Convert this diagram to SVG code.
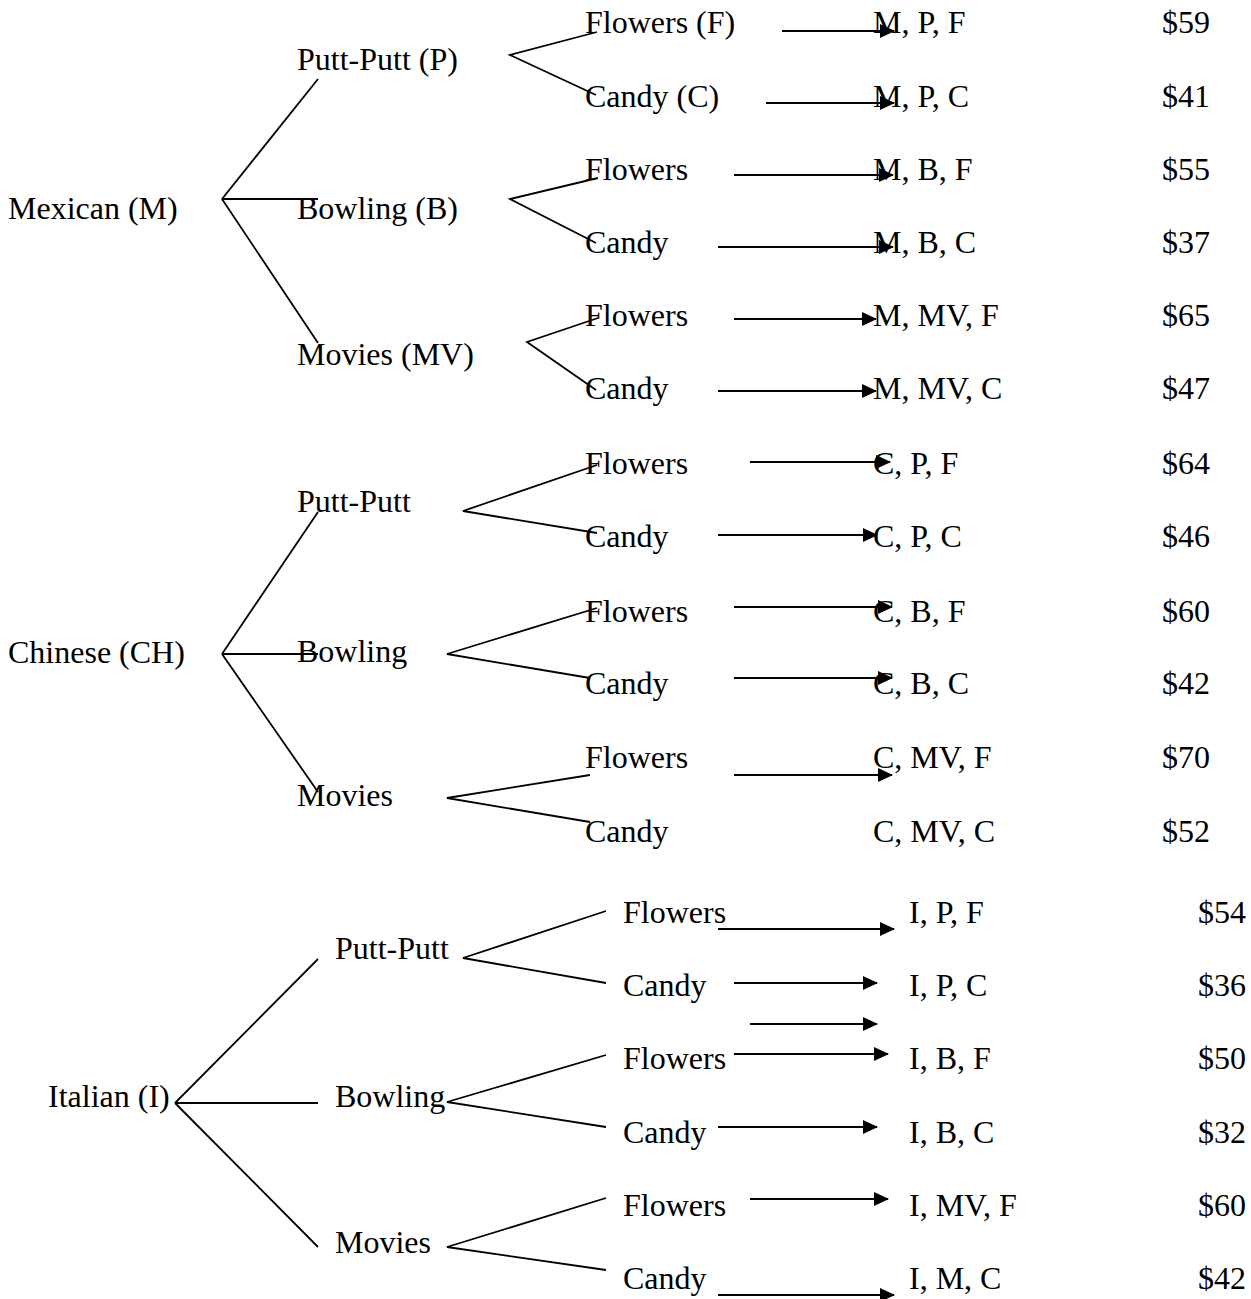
<svg xmlns="http://www.w3.org/2000/svg" width="1251" height="1299" viewBox="0 0 1251 1299">
<style>
.t{font-family:"Liberation Serif","Times New Roman",serif;font-size:32px;fill:#000}
.e{stroke:#000;stroke-width:1.8;fill:none}
.a{stroke:#000;stroke-width:2;fill:none;marker-end:url(#ah)}
</style>
<defs>
<marker id="ah" viewBox="0 0 15 14" refX="14" refY="7" markerWidth="15" markerHeight="14" markerUnits="userSpaceOnUse" orient="auto">
<path d="M0,0 L15,7 L0,14 z" fill="#000"/>
</marker>
</defs>
<rect width="1251" height="1299" fill="#fff"/>
<g id="connectors">
<!-- Mexican tree -->
<line class="e" x1="222" y1="199" x2="318" y2="79"/>
<line class="e" x1="222" y1="199" x2="318" y2="199"/>
<line class="e" x1="222" y1="199" x2="318" y2="343"/>
<polyline class="e" points="597,32 510,55 596,95"/>
<polyline class="e" points="598,178 510,199 596,243"/>
<polyline class="e" points="598,318 527,342 596,390"/>
<line class="a" x1="782" y1="31" x2="894" y2="31"/>
<line class="a" x1="766" y1="103" x2="894" y2="103"/>
<line class="a" x1="734" y1="175" x2="893" y2="175"/>
<line class="a" x1="718" y1="247" x2="893" y2="247"/>
<line class="a" x1="734" y1="319" x2="876" y2="319"/>
<line class="a" x1="718" y1="391" x2="876" y2="391"/>
<!-- Chinese tree -->
<line class="e" x1="222" y1="654" x2="318" y2="512"/>
<line class="e" x1="222" y1="654" x2="318" y2="654"/>
<line class="e" x1="222" y1="654" x2="318" y2="792"/>
<polyline class="e" points="597,465 463,511 597,533"/>
<polyline class="e" points="597,608 447,654 590,678"/>
<polyline class="e" points="590,775 447,798 590,822"/>
<line class="a" x1="750" y1="462" x2="890" y2="462"/>
<line class="a" x1="718" y1="535" x2="877" y2="535"/>
<line class="a" x1="734" y1="607" x2="892" y2="607"/>
<line class="a" x1="734" y1="678" x2="892" y2="678"/>
<line class="a" x1="734" y1="775" x2="892" y2="775"/>
<!-- Italian tree -->
<line class="e" x1="175" y1="1103" x2="318" y2="959"/>
<line class="e" x1="175" y1="1103" x2="318" y2="1103"/>
<line class="e" x1="175" y1="1103" x2="318" y2="1247"/>
<polyline class="e" points="606,911 463,958 606,983"/>
<polyline class="e" points="606,1055 447,1102 606,1127"/>
<polyline class="e" points="606,1198 447,1247 606,1270"/>
<line class="a" x1="718" y1="929" x2="894" y2="929"/>
<line class="a" x1="734" y1="983" x2="877" y2="983"/>
<line class="a" x1="750" y1="1024" x2="877" y2="1024"/>
<line class="a" x1="734" y1="1054" x2="888" y2="1054"/>
<line class="a" x1="718" y1="1127" x2="877" y2="1127"/>
<line class="a" x1="750" y1="1199" x2="888" y2="1199"/>
<line class="a" x1="718" y1="1295" x2="894" y2="1295"/>
</g>
<g id="mexican"><text class="t" x="8" y="219">Mexican (M)</text></g>
<g id="m-puttputt"><text class="t" x="297" y="70">Putt-Putt (P)</text></g>
<g id="m-bowling"><text class="t" x="297" y="219">Bowling (B)</text></g>
<g id="m-movies"><text class="t" x="297" y="365">Movies (MV)</text></g>
<g id="m-leaves">
<text class="t" x="585" y="33">Flowers (F)</text>
<text class="t" x="585" y="107">Candy (C)</text>
<text class="t" x="585" y="180">Flowers</text>
<text class="t" x="585" y="253">Candy</text>
<text class="t" x="585" y="326">Flowers</text>
<text class="t" x="585" y="399">Candy</text>
</g>
<g id="m-outcomes">
<text class="t" x="873" y="33">M, P, F</text>
<text class="t" x="873" y="107">M, P, C</text>
<text class="t" x="873" y="180">M, B, F</text>
<text class="t" x="873" y="253">M, B, C</text>
<text class="t" x="873" y="326">M, MV, F</text>
<text class="t" x="873" y="399">M, MV, C</text>
</g>
<g id="m-prices">
<text class="t" x="1162" y="33">$59</text>
<text class="t" x="1162" y="107">$41</text>
<text class="t" x="1162" y="180">$55</text>
<text class="t" x="1162" y="253">$37</text>
<text class="t" x="1162" y="326">$65</text>
<text class="t" x="1162" y="399">$47</text>
</g>
<g id="chinese"><text class="t" x="8" y="663">Chinese (CH)</text></g>
<g id="c-puttputt"><text class="t" x="297" y="512">Putt-Putt</text></g>
<g id="c-bowling"><text class="t" x="297" y="662">Bowling</text></g>
<g id="c-movies"><text class="t" x="297" y="806">Movies</text></g>
<g id="c-leaves">
<text class="t" x="585" y="474">Flowers</text>
<text class="t" x="585" y="547">Candy</text>
<text class="t" x="585" y="622">Flowers</text>
<text class="t" x="585" y="694">Candy</text>
<text class="t" x="585" y="768">Flowers</text>
<text class="t" x="585" y="842">Candy</text>
</g>
<g id="c-outcomes">
<text class="t" x="873" y="474">C, P, F</text>
<text class="t" x="873" y="547">C, P, C</text>
<text class="t" x="873" y="622">C, B, F</text>
<text class="t" x="873" y="694">C, B, C</text>
<text class="t" x="873" y="768">C, MV, F</text>
<text class="t" x="873" y="842">C, MV, C</text>
</g>
<g id="c-prices">
<text class="t" x="1162" y="474">$64</text>
<text class="t" x="1162" y="547">$46</text>
<text class="t" x="1162" y="622">$60</text>
<text class="t" x="1162" y="694">$42</text>
<text class="t" x="1162" y="768">$70</text>
<text class="t" x="1162" y="842">$52</text>
</g>
<g id="italian"><text class="t" x="48" y="1107">Italian (I)</text></g>
<g id="i-puttputt"><text class="t" x="335" y="959">Putt-Putt</text></g>
<g id="i-bowling"><text class="t" x="335" y="1107">Bowling</text></g>
<g id="i-movies"><text class="t" x="335" y="1253">Movies</text></g>
<g id="i-leaves">
<text class="t" x="623" y="923">Flowers</text>
<text class="t" x="623" y="996">Candy</text>
<text class="t" x="623" y="1069">Flowers</text>
<text class="t" x="623" y="1143">Candy</text>
<text class="t" x="623" y="1216">Flowers</text>
<text class="t" x="623" y="1289">Candy</text>
</g>
<g id="i-outcomes">
<text class="t" x="909" y="923">I, P, F</text>
<text class="t" x="909" y="996">I, P, C</text>
<text class="t" x="909" y="1069">I, B, F</text>
<text class="t" x="909" y="1143">I, B, C</text>
<text class="t" x="909" y="1216">I, MV, F</text>
<text class="t" x="909" y="1289">I, M, C</text>
</g>
<g id="i-prices">
<text class="t" x="1198" y="923">$54</text>
<text class="t" x="1198" y="996">$36</text>
<text class="t" x="1198" y="1069">$50</text>
<text class="t" x="1198" y="1143">$32</text>
<text class="t" x="1198" y="1216">$60</text>
<text class="t" x="1198" y="1289">$42</text>
</g>
</svg>
